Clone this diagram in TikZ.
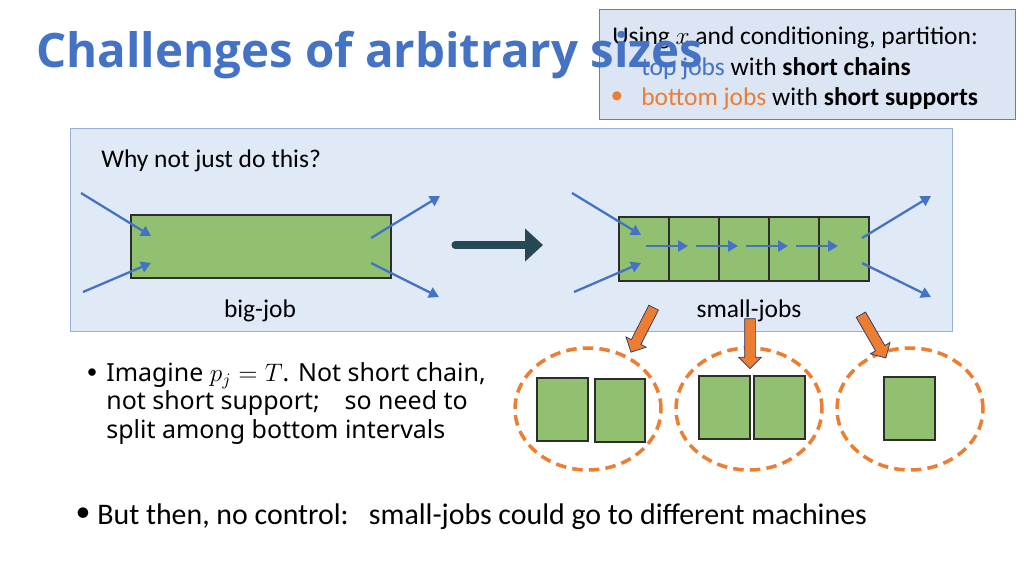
\documentclass[tikz,border=0pt]{standalone}
\usepackage{fontspec}
\usepackage{amsmath}
\setmainfont{Carlito}
\newfontfamily\titlefont{Open Sans}
\newfontfamily\notefont{Noto Sans}
\usetikzlibrary{arrows.meta,calc,positioning,shapes.geometric,shapes.arrows}
\definecolor{slideB}{RGB}{68,114,196}
\definecolor{slideO}{RGB}{237,125,49}
\definecolor{frameF}{RGB}{223,234,246}
\definecolor{frameL}{RGB}{150,175,220}
\definecolor{noteF}{RGB}{220,229,243}
\definecolor{noteL}{RGB}{100,125,185}
\definecolor{jobG}{RGB}{145,192,112}
\definecolor{jobL}{RGB}{45,45,45}
\definecolor{darkA}{RGB}{38,72,84}

\begin{document}
\begin{tikzpicture}[x={(0.02cm,0)},y={(0,-0.02cm)},
  job/.style={draw=jobL,fill=jobG,line width=1.6pt,inner sep=0pt},
  flow/.style={-{Triangle[length=2mm,width=2.2mm]},slideB,line width=1.3pt},
  grp/.style={ellipse,draw=slideO,line width=2pt,dash pattern=on 6pt off 3.5pt,
    minimum width=2.92cm,minimum height=2.44cm,inner sep=0pt},
  drop/.style={single arrow,fill=slideO,draw=slideB!50!black,thin,minimum height=1cm,
    inner sep=0.1cm,single arrow head extend=0.12cm,single arrow head indent=0pt},
  lbl/.style={font=\fontsize{14.5}{17}\selectfont,inner sep=0pt},
  note/.style={anchor=base west,font=\fontsize{14.5}{17}\selectfont,inner sep=0pt}]
\useasboundingbox[fill=white] (0,0) rectangle (1024,575);
% shaded frame around the picture
\draw[frameL,fill=frameF] (70,128) rectangle (952,331);
\node[lbl,anchor=base west] (why) at (101,167) {Why not just do this?};
% one big job
\node[job,minimum width=5.2cm,minimum height=1.26cm] (big) at (261,246.5) {};
\coordinate (bigInT) at (81,193);  \coordinate (bigHitT) at (151,236);
\coordinate (bigInB) at (83,292);  \coordinate (bigHitB) at (151,263);
\coordinate (bigOffT) at (371,238); \coordinate (bigOutT) at (440,196);
\coordinate (bigOffB) at (371,263); \coordinate (bigOutB) at (439,297);
\draw[flow] (bigInT) -- (bigHitT);
\draw[flow] (bigInB) -- (bigHitB);
\draw[flow] (bigOffT) -- (bigOutT);
\draw[flow] (bigOffB) -- (bigOutB);
\node[lbl] (bigLbl) at (260,311) {big-job};
% split arrow
\coordinate (splitS) at (455,245); \coordinate (splitE) at (543,245);
\draw[darkA,line width=4pt,line cap=round,-{Triangle[length=3.6mm,width=6.4mm]}] (splitS) -- (splitE);
% chain of small jobs
\foreach \i in {1,...,5}
  \node[job,minimum width=1cm,minimum height=1.28cm] (s\i) at (594+50*\i,249) {};
\foreach \i/\j in {1/2,2/3,3/4,4/5}
  \draw[flow] ($(s\i.center)+(2,-3)$) -- ($(s\j.center)+(-6,-3)$);
\coordinate (smInT) at (572,193);  \coordinate (smHitT) at (641,235);
\coordinate (smInB) at (574,292);  \coordinate (smHitB) at (641,263);
\coordinate (smOffT) at (862,238); \coordinate (smOutT) at (931,196);
\coordinate (smOffB) at (862,263); \coordinate (smOutB) at (931,297);
\draw[flow] (smInT) -- (smHitT);
\draw[flow] (smInB) -- (smHitB);
\draw[flow] (smOffT) -- (smOutT);
\draw[flow] (smOffB) -- (smOutB);
\node[lbl] (smLbl) at (749,311) {small-jobs};
% bottom intervals
\node[grp] (grpA) at (588,409) {};
\node[grp] (grpB) at (749,409) {};
\node[grp] (grpC) at (910,409) {};
\node[job,minimum width=1.02cm,minimum height=1.26cm] (a1) at (562.5,409.5) {};
\node[job,minimum width=1cm,minimum height=1.26cm] (a2) at (620,410.5) {};
\node[job,minimum width=1.02cm,minimum height=1.26cm] (b1) at (724.5,407.5) {};
\node[job,minimum width=1.02cm,minimum height=1.26cm] (b2) at (779.5,407.5) {};
\node[job,minimum width=1.02cm,minimum height=1.26cm] (c1) at (909.5,408.5) {};
\node[drop,rotate=-117] (dropA) at (643.5,327.5) {};
\node[drop,rotate=-90] (dropB) at (750,341) {};
\node[drop,rotate=-60] (dropC) at (872,334) {};
% text on the left
\node[font=\fontsize{12}{14}\selectfont,inner sep=0pt] (dotA) at (92,374) {•};
\node[anchor=north west,align=left,font=\notefont\fontsize{14.2}{16.2}\selectfont,inner sep=0pt] (imagine) at (106,362)
  {Imagine $p_j = T$. Not short chain,\\ not short support;\quad so need to\\ split among bottom intervals};
\node[font=\fontsize{17}{21}\selectfont,inner sep=0pt] (dotB) at (83,515) {•};
\node[anchor=base west,font=\fontsize{17}{21}\selectfont,inner sep=0pt] (but) at (97,524)
  {But then, no control:\ \ \ small-jobs could go to different machines};
% note box, title on top of it
\draw[noteL,fill=noteF] (599,9) rectangle (1015,119);
\node[note] (noteA) at (612,44) {Using $x$ and conditioning, partition:};
\node[note] (noteB) at (641,75) {\textcolor{slideB}{top jobs} with \textbf{short chains}};
\node[slideO,font=\fontsize{14.5}{17}\selectfont,inner sep=0pt] (dotC) at (617,98) {•};
\node[note] (noteC) at (641,105) {\textcolor{slideO}{bottom jobs} with \textbf{short supports}};
\node[anchor=west,inner sep=0pt,text=slideB,font=\titlefont\bfseries\fontsize{27}{33}\selectfont] (title) at (36,55) {Challenges of arbitrary sizes};
\end{tikzpicture}
\end{document}
